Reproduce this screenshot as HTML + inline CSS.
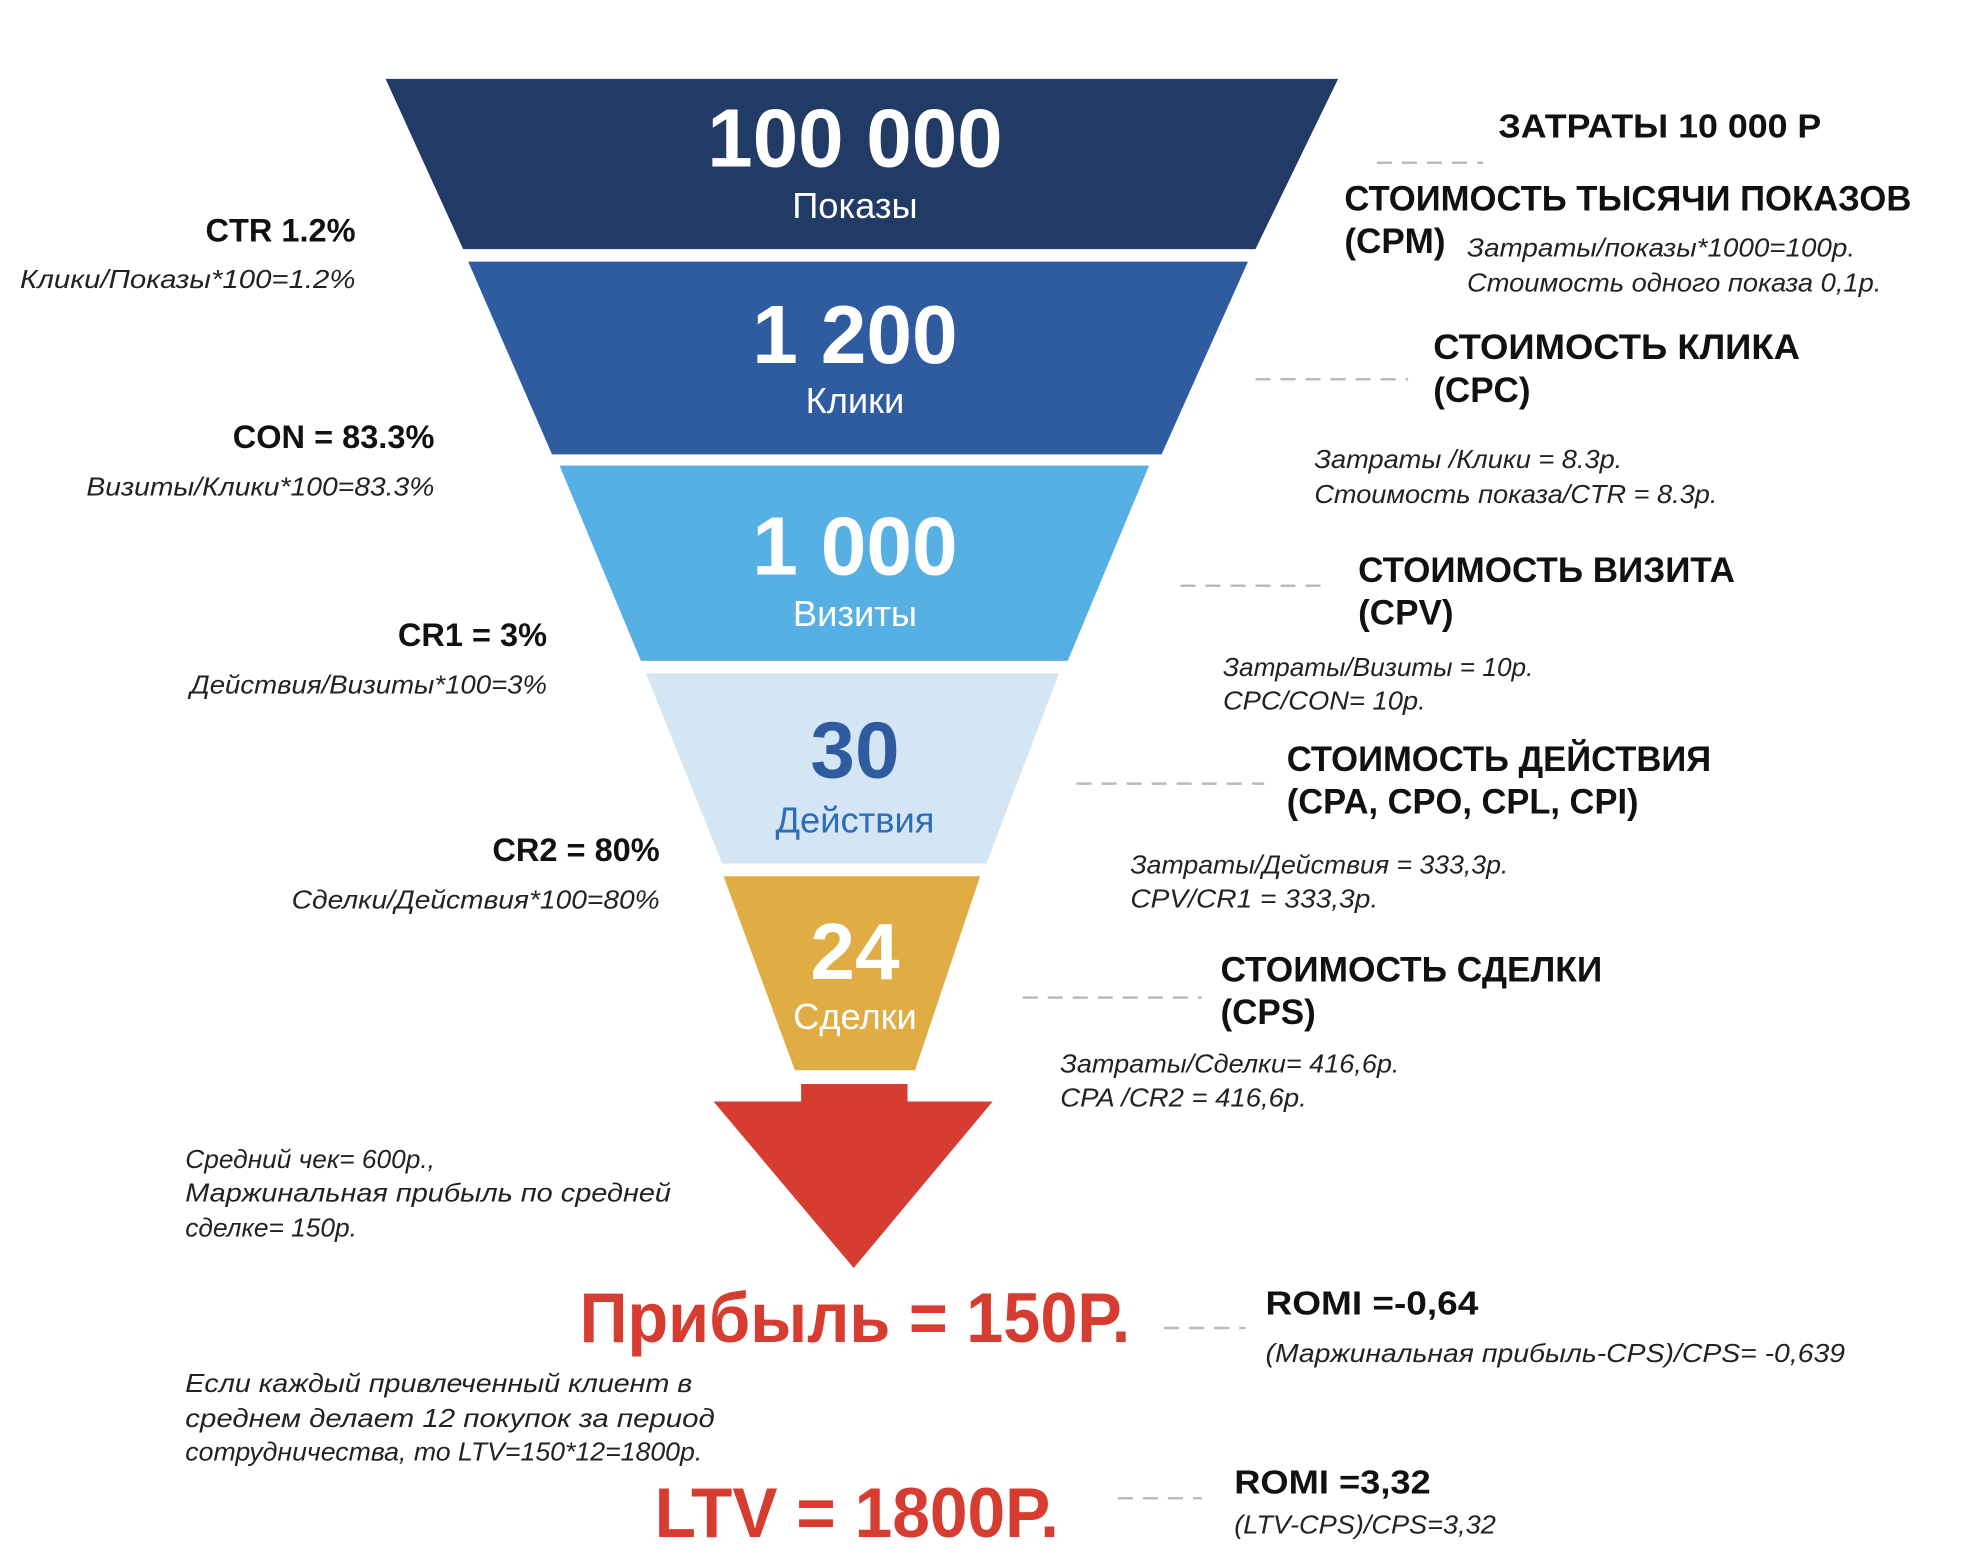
<!DOCTYPE html>
<html><head><meta charset="utf-8"><style>
html,body{margin:0;padding:0;background:#fff;}
svg{display:block;}
.b{font-family:"Liberation Sans",sans-serif;font-weight:bold;fill:#111;}
.i{font-family:"Liberation Sans",sans-serif;font-style:italic;fill:#222;font-size:21px;}
.w{font-family:"Liberation Sans",sans-serif;fill:#fff;text-anchor:middle;}
.r{font-family:"Liberation Sans",sans-serif;font-weight:bold;fill:#d63c30;}
.d{stroke:#bbb;stroke-width:2;stroke-dasharray:12,8;}
</style></head><body>
<svg width="1964" height="1564" viewBox="0 0 1569 1249.5" xmlns="http://www.w3.org/2000/svg">
<rect width="1570" height="1250" fill="#fff"/>
<polygon points="308,63 1069,63 1003,199 370,199" fill="#213a66"/>
<polygon points="374,209 997,209 928,363 441,363" fill="#2e5c9e"/>
<polygon points="447,372 918,372 853,528 512,528" fill="#56b0e4"/>
<polygon points="516,538 846,538 788,690 577,690" fill="#d4e6f3"/>
<polygon points="578,700 783,700 731,855 635,855" fill="#e0ad45"/>
<polygon points="640,866 725,866 725,880 793,880 682,1013 570,880 640,880" fill="#d63c30"/>

<text class="w" x="683" y="133" font-size="66" font-weight="bold" textLength="236" lengthAdjust="spacingAndGlyphs">100 000</text>
<text class="w" x="683" y="174" font-size="29">Показы</text>
<text class="w" x="683" y="290" font-size="66" font-weight="bold" textLength="164" lengthAdjust="spacingAndGlyphs">1 200</text>
<text class="w" x="683" y="330" font-size="29">Клики</text>
<text class="w" x="683" y="459" font-size="66" font-weight="bold" textLength="164" lengthAdjust="spacingAndGlyphs">1 000</text>
<text class="w" x="683" y="500" font-size="29">Визиты</text>
<text class="w" x="683" y="621" font-size="64" font-weight="bold" style="fill:#2e5c9e">30</text>
<text class="w" x="683" y="665" font-size="29" style="fill:#2e6cb8">Действия</text>
<text class="w" x="683" y="782" font-size="64" font-weight="bold">24</text>
<text class="w" x="683" y="822" font-size="29">Сделки</text>

<text class="b" x="284" y="193" font-size="26" text-anchor="end">CTR 1.2%</text>
<text class="i" x="284" y="230" text-anchor="end" textLength="268" lengthAdjust="spacingAndGlyphs">Клики/Показы*100=1.2%</text>
<text class="b" x="347" y="358" font-size="26" text-anchor="end">CON = 83.3%</text>
<text class="i" x="347" y="396" text-anchor="end" textLength="278" lengthAdjust="spacingAndGlyphs">Визиты/Клики*100=83.3%</text>
<text class="b" x="437" y="516" font-size="26" text-anchor="end">CR1 = 3%</text>
<text class="i" x="437" y="554" text-anchor="end" textLength="285" lengthAdjust="spacingAndGlyphs">Действия/Визиты*100=3%</text>
<text class="b" x="527" y="688" font-size="26" text-anchor="end">CR2 = 80%</text>
<text class="i" x="527" y="726" text-anchor="end" textLength="294" lengthAdjust="spacingAndGlyphs">Сделки/Действия*100=80%</text>
<text class="i" x="148" y="933">Средний чек= 600р.,</text>
<text class="i" x="148" y="960" textLength="388" lengthAdjust="spacingAndGlyphs">Маржинальная прибыль по средней</text>
<text class="i" x="148" y="988">сделке= 150р.</text>
<text class="r" x="463" y="1072" font-size="56" textLength="440" lengthAdjust="spacingAndGlyphs">Прибыль = 150Р.</text>
<text class="i" x="148" y="1112" textLength="405" lengthAdjust="spacingAndGlyphs">Если каждый привлеченный клиент в</text>
<text class="i" x="148" y="1140" textLength="423" lengthAdjust="spacingAndGlyphs">среднем  делает  12 покупок  за период</text>
<text class="i" x="148" y="1167" textLength="413" lengthAdjust="spacingAndGlyphs">сотрудничества, то LTV=150*12=1800р.</text>
<text class="r" x="523" y="1228" font-size="56" textLength="323" lengthAdjust="spacingAndGlyphs">LTV = 1800Р.</text>

<text class="b" x="1197" y="110" font-size="27" textLength="258" lengthAdjust="spacingAndGlyphs">ЗАТРАТЫ 10 000 Р</text>
<line class="d" x1="1100" y1="130" x2="1185" y2="130"/>
<text class="b" x="1074" y="168" font-size="28" textLength="453" lengthAdjust="spacingAndGlyphs">СТОИМОСТЬ ТЫСЯЧИ ПОКАЗОВ</text>
<text class="b" x="1074" y="202" font-size="28">(CPM)</text>
<text class="i" x="1172" y="205" textLength="310" lengthAdjust="spacingAndGlyphs">Затраты/показы*1000=100р.</text>
<text class="i" x="1172" y="233" textLength="331" lengthAdjust="spacingAndGlyphs">Стоимость одного показа 0,1р.</text>
<line class="d" x1="1003" y1="303" x2="1125" y2="303"/>
<text class="b" x="1145" y="287" font-size="28" textLength="293" lengthAdjust="spacingAndGlyphs">СТОИМОСТЬ  КЛИКА</text>
<text class="b" x="1145" y="321" font-size="28">(CPC)</text>
<text class="i" x="1050" y="374" textLength="246" lengthAdjust="spacingAndGlyphs">Затраты /Клики = 8.3р.</text>
<text class="i" x="1050" y="402" textLength="322" lengthAdjust="spacingAndGlyphs">Стоимость показа/CTR = 8.3р.</text>
<line class="d" x1="943" y1="468" x2="1063" y2="468"/>
<text class="b" x="1085" y="465" font-size="28" textLength="301" lengthAdjust="spacingAndGlyphs">СТОИМОСТЬ ВИЗИТА</text>
<text class="b" x="1085" y="499" font-size="28">(CPV)</text>
<text class="i" x="977" y="540" textLength="248" lengthAdjust="spacingAndGlyphs">Затраты/Визиты = 10р.</text>
<text class="i" x="977" y="567" textLength="162" lengthAdjust="spacingAndGlyphs">CPC/CON= 10р.</text>
<line class="d" x1="860" y1="626" x2="1010" y2="626"/>
<text class="b" x="1028" y="616" font-size="28" textLength="339" lengthAdjust="spacingAndGlyphs">СТОИМОСТЬ ДЕЙСТВИЯ</text>
<text class="b" x="1028" y="650" font-size="28" textLength="281" lengthAdjust="spacingAndGlyphs">(CPA, CPO, CPL, CPI)</text>
<text class="i" x="903" y="698" textLength="302" lengthAdjust="spacingAndGlyphs">Затраты/Действия = 333,3р.</text>
<text class="i" x="903" y="725" textLength="198" lengthAdjust="spacingAndGlyphs">CPV/CR1 =  333,3р.</text>
<line class="d" x1="817" y1="797" x2="960" y2="797"/>
<text class="b" x="975" y="784" font-size="28" textLength="305" lengthAdjust="spacingAndGlyphs">СТОИМОСТЬ СДЕЛКИ</text>
<text class="b" x="975" y="818" font-size="28">(CPS)</text>
<text class="i" x="847" y="857" textLength="271" lengthAdjust="spacingAndGlyphs">Затраты/Сделки= 416,6р.</text>
<text class="i" x="847" y="884" textLength="197" lengthAdjust="spacingAndGlyphs">CPA /CR2 = 416,6р.</text>
<line class="d" x1="930" y1="1061" x2="995" y2="1061"/>
<text class="b" x="1011" y="1050" font-size="27" textLength="170" lengthAdjust="spacingAndGlyphs">ROMI =-0,64</text>
<text class="i" x="1011" y="1088" textLength="463" lengthAdjust="spacingAndGlyphs">(Маржинальная прибыль-CPS)/CPS= -0,639</text>
<line class="d" x1="893" y1="1197" x2="960" y2="1197"/>
<text class="b" x="986" y="1193" font-size="27" textLength="157" lengthAdjust="spacingAndGlyphs">ROMI =3,32</text>
<text class="i" x="986" y="1225" textLength="209" lengthAdjust="spacingAndGlyphs">(LTV-CPS)/CPS=3,32</text>
</svg>
</body></html>
